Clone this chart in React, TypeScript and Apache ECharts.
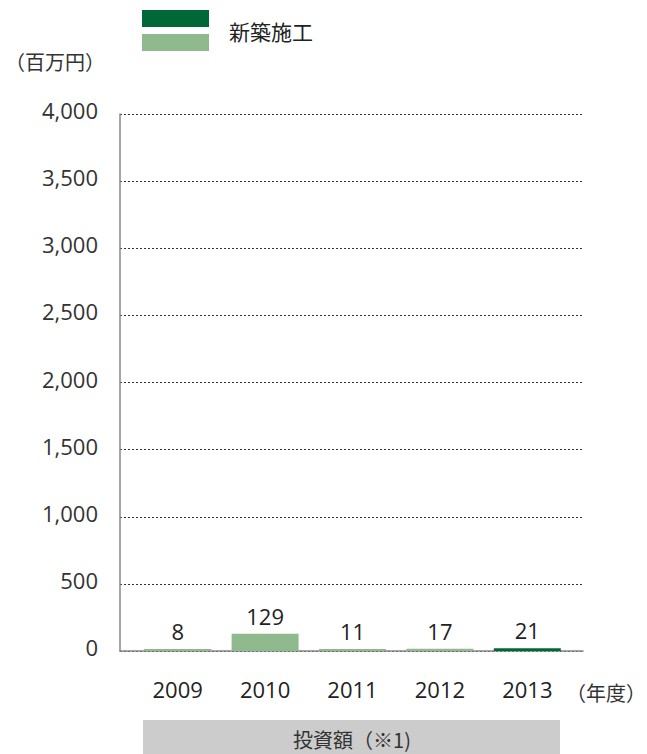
import React, { useEffect, useRef } from "react";
import * as echarts from "echarts";

const years = ["2009", "2010", "2011", "2012", "2013"];
const values = [8, 129, 11, 17, 21];
const darkIndex = [4];
const yTicks = [0, 500, 1000, 1500, 2000, 2500, 3000, 3500, 4000];

const DARK = "#006837";
const LIGHT = "#8EBA8D";
const FONT = "'Open Sans', 'Noto Sans', sans-serif";
const JFONT = "'Noto Sans CJK JP', sans-serif";

export default function App() {
  const ref = useRef<HTMLDivElement>(null);
  useEffect(() => {
    if (!ref.current) return;
    const chart = echarts.init(ref.current, undefined, { renderer: "svg" });
    const yMax = yTicks[yTicks.length - 1];
    chart.setOption({
      animation: false,
      backgroundColor: "#ffffff",
      grid: [
        { left: 120, top: 114, width: 463, height: 537 },
        { left: 134, top: 114, width: 437, height: 537 },
      ],
      xAxis: [
        {
          gridIndex: 0,
          type: "value",
          min: 0,
          max: 1,
          axisLine: { show: true, lineStyle: { color: "#888", width: 1.5 } },
          axisTick: { show: false },
          axisLabel: { show: false },
          splitLine: { show: false },
        },
        {
          gridIndex: 1,
          type: "category",
          data: years,
          axisLine: { show: false },
          axisTick: { show: false },
          axisLabel: { color: "#222", fontSize: 22, fontFamily: FONT, margin: 27 },
        },
      ],
      yAxis: [
        {
          gridIndex: 0,
          type: "value",
          min: 0,
          max: yMax,
          interval: 500,
          axisLine: { show: true, lineStyle: { color: "#888", width: 1.5 } },
          axisTick: { show: false },
          axisLabel: {
            color: "#333",
            fontSize: 22,
            fontFamily: FONT,
            margin: 22,
            verticalAlign: "bottom",
            lineHeight: 8,
            formatter: (v: number) => v.toLocaleString("en-US"),
          },
          splitLine: { show: true, lineStyle: { color: "#333", type: [2, 2], width: 1 } },
        },
        {
          gridIndex: 1,
          type: "value",
          min: 0,
          max: yMax,
          interval: 500,
          show: false,
          splitLine: { show: false },
        },
      ],
      series: [
        {
          type: "bar",
          xAxisIndex: 1,
          yAxisIndex: 1,
          barWidth: 67,
          barMinHeight: 2,
          data: values.map((v, i) => ({
            value: v,
            itemStyle: { color: darkIndex.includes(i) ? DARK : LIGHT },
          })),
          label: {
            show: true,
            position: "top",
            distance: 7,
            color: "#222",
            fontSize: 22,
            fontFamily: FONT,
          },
        },
      ],
      graphic: [
        { type: "rect", shape: { x: 142, y: 10, width: 67, height: 17 }, style: { fill: DARK } },
        { type: "rect", shape: { x: 142, y: 34, width: 67, height: 17 }, style: { fill: LIGHT } },
        {
          type: "text",
          x: 229,
          y: 31,
          style: { text: "新築施工", font: `21px ${JFONT}`, fill: "#222", textVerticalAlign: "middle" },
        },
        {
          type: "text",
          x: 5,
          y: 61,
          style: { text: "（百万円）", font: `20px ${JFONT}`, fill: "#333", textVerticalAlign: "middle" },
        },
        {
          type: "text",
          x: 566,
          y: 692,
          style: { text: "（年度）", font: `20px ${JFONT}`, fill: "#333", textVerticalAlign: "middle" },
        },
        { type: "rect", shape: { x: 143, y: 720, width: 417, height: 40 }, style: { fill: "#cccccc" } },
        {
          type: "text",
          x: 352,
          y: 739,
          style: {
            text: "投資額（※1)",
            font: `20px ${JFONT}`,
            fill: "#333",
            textAlign: "center",
            textVerticalAlign: "middle",
          },
        },
      ],
    });
    return () => chart.dispose();
  }, []);
  return (
    <div
      ref={ref}
      style={{ position: "absolute", left: 0, top: 0, width: 647, height: 754 }}
    />
  );
}
